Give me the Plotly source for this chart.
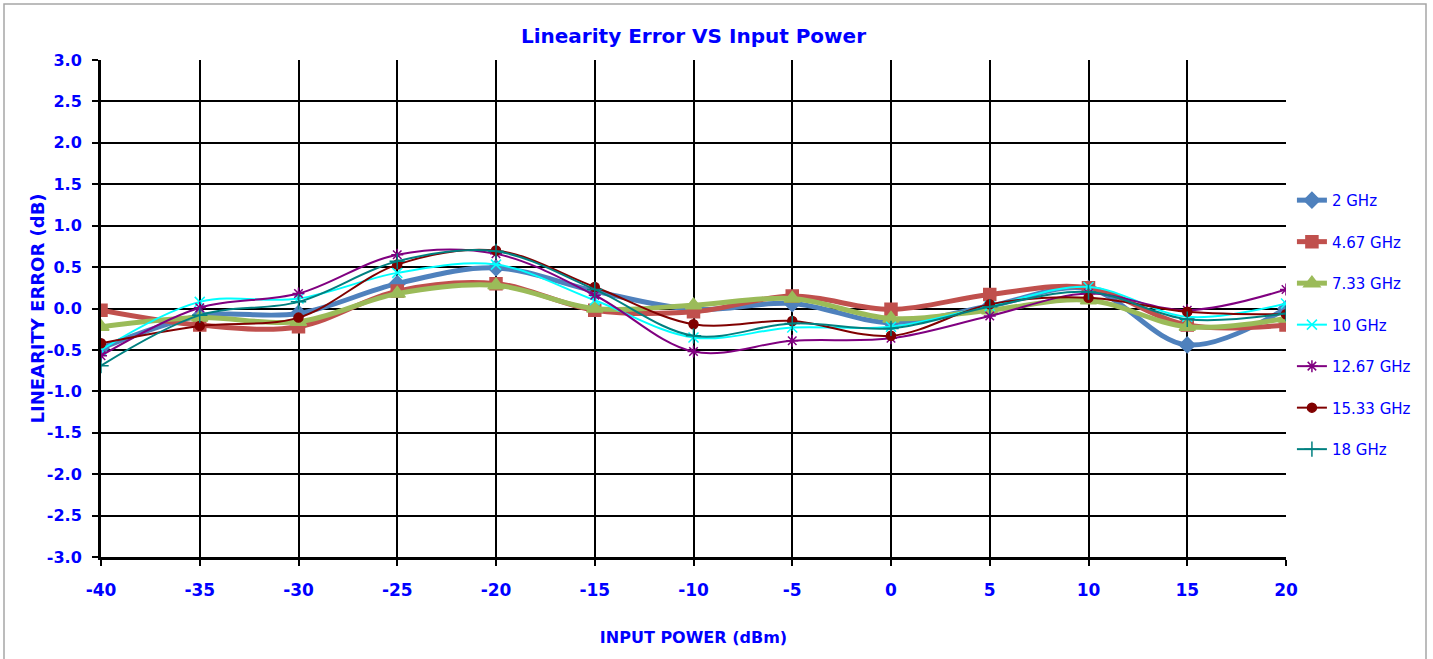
import plotly.graph_objects as go

x_power = [-40, -35, -30, -25, -20, -15, -10, -5, 0, 5, 10, 15, 20]
y_ticks = [3.0, 2.5, 2.0, 1.5, 1.0, 0.5, 0.0, -0.5, -1.0, -1.5, -2.0, -2.5, -3.0]

s_2ghz    = [-0.48, -0.09, -0.06, 0.30, 0.49, 0.21, -0.01, 0.06, -0.17, 0.03, 0.24, -0.44, 0.00]
s_4_67ghz = [-0.02, -0.20, -0.22, 0.21, 0.30, -0.02, -0.04, 0.15, -0.01, 0.17, 0.25, -0.20, -0.20]
s_7_33ghz = [-0.22, -0.11, -0.16, 0.18, 0.28, 0.00, 0.04, 0.12, -0.12, -0.02, 0.10, -0.22, -0.12]
s_10ghz   = [-0.50, 0.08, 0.12, 0.43, 0.53, 0.10, -0.35, -0.23, -0.22, 0.03, 0.26, -0.10, 0.06]
s_12_67ghz= [-0.57, 0.01, 0.18, 0.65, 0.66, 0.16, -0.52, -0.39, -0.36, -0.09, 0.18, -0.02, 0.23]
s_15_33ghz= [-0.42, -0.21, -0.11, 0.53, 0.70, 0.26, -0.19, -0.15, -0.33, 0.05, 0.13, -0.04, -0.07]
s_18ghz   = [-0.69, -0.08, 0.08, 0.57, 0.69, 0.23, -0.33, -0.18, -0.24, 0.02, 0.20, -0.13, -0.06]

names = ["2 GHz", "4.67 GHz", "7.33 GHz", "10 GHz", "12.67 GHz", "15.33 GHz", "18 GHz"]
series = [s_2ghz, s_4_67ghz, s_7_33ghz, s_10ghz, s_12_67ghz, s_15_33ghz, s_18ghz]
colors = ["#4F81BD", "#C0504D", "#9BBB59", "#00FFFF", "#800080", "#800000", "#008080"]
widths = [5, 5, 5, 2, 2, 2, 2]
symbols = ["diamond", "square", "triangle-up", "x-thin-open", "asterisk-open", "circle", "cross-thin-open"]
msizes = [12, 12, 14, 10, 10, 9, 11]

FONT = "DejaVu Sans, Arial, sans-serif"
BLUE = "#0000FF"

fig = go.Figure()
for i, (nm, ys) in enumerate(zip(names, series)):
    fig.add_trace(go.Scatter(
        x=x_power, y=ys, name=nm, mode="lines+markers",
        line=dict(color=colors[i], width=widths[i], shape="spline", smoothing=1.0),
        marker=dict(symbol=symbols[i], size=msizes[i], color=colors[i],
                    line=dict(color=colors[i], width=1.5)),
        legendgroup=f"g{i}",
    ))

fig.update_layout(
    width=1433, height=659,
    margin=dict(l=101, r=147, t=60, b=102, autoexpand=False),
    paper_bgcolor="white", plot_bgcolor="white",
    title=dict(text="<b>Linearity Error VS Input Power</b>", x=0.5, xref="paper",
               y=1 - 36/659, yanchor="middle",
               font=dict(family=FONT, size=20, color=BLUE)),
    legend=dict(x=1.005, xanchor="left", y=0.467, yanchor="middle",
                font=dict(family=FONT, size=15, color=BLUE),
                tracegroupgap=19, traceorder="grouped",
                bgcolor="rgba(0,0,0,0)"),
    showlegend=True,
)

fig.update_xaxes(
    range=[-40, 20], tickvals=x_power, ticktext=[str(v) for v in x_power],
    automargin=False,
    showgrid=True, gridcolor="black", gridwidth=2,
    showline=True, linecolor="black", linewidth=3, mirror=False,
    ticks="outside", ticklen=6, tickwidth=1.5, tickcolor="black",
    zeroline=True, zerolinecolor="black", zerolinewidth=2,
    tickfont=dict(family=FONT, size=17, color=BLUE, weight="bold"),
    ticklabelstandoff=10,
    title=dict(text="<b>INPUT POWER (dBm)</b>", standoff=33,
               font=dict(family=FONT, size=16, color=BLUE)),
)
fig.update_yaxes(
    range=[-3, 3], tickvals=y_ticks, ticktext=[f"{v:.1f}" for v in y_ticks],
    automargin=False,
    showgrid=True, gridcolor="black", gridwidth=2,
    showline=True, linecolor="black", linewidth=3,
    ticks="outside", ticklen=6, tickwidth=1.5, tickcolor="black",
    zeroline=True, zerolinecolor="black", zerolinewidth=2,
    tickfont=dict(family=FONT, size=16, color=BLUE, weight="bold"),
    ticklabelstandoff=7,
)

fig.add_annotation(text="<b>LINEARITY ERROR (dB)</b>", textangle=-90,
                   xref="paper", yref="paper", x=(37-101)/1185, y=0.5,
                   xanchor="center", yanchor="middle", showarrow=False,
                   font=dict(family=FONT, size=18, color=BLUE))

fig.add_shape(type="rect", xref="paper", yref="paper",
              x0=-97/1185, x1=(1426-101)/1185, y0=-0.3, y1=(557-4)/497,
              line=dict(color="#A6A6A6", width=1.5), layer="below")

fig.write_html("out.html", config={"displayModeBar": False},
               post_script="document.body.style.margin='0px';")
